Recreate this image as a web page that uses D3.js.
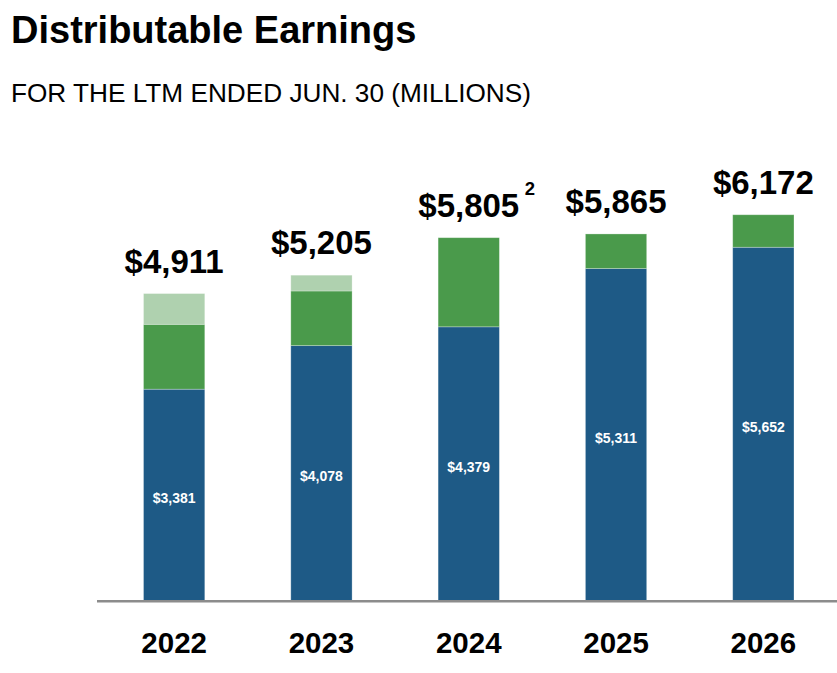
<!DOCTYPE html>
<html>
<head>
<meta charset="utf-8">
<script src="https://cdn.jsdelivr.net/npm/d3@7"></script>
<style>
    body { margin: 0; background: #fff; }
    svg { display: block; font-family: "Liberation Sans", Arial, sans-serif; }
</style>
</head>
<body>
<div id="chart"></div>
<script>
// Data
const years = ["2022", "2023", "2024", "2025", "2026"];
const baseValues = [3381, 4078, 4379, 5311, 5652];   // dark blue, labelled
const midValues = [1038, 874, 1426, 554, 520];        // green
const topValues = [492, 253, 0, 0, 0];                // light green
const totalLabels = ["$4,911", "$5,205", "$5,805", "$5,865", "$6,172"];
const footnotes = ["", "", "2", "", ""];

const width = 837, height = 673;

const svg = d3.select("#chart")
    .append("svg")
    .attr("width", width)
    .attr("height", height);

// Title and subtitle
svg.append("text")
    .attr("x", 11)
    .attr("y", 43)
    .style("font-size", "38px")
    .style("font-weight", "bold")
    .attr("fill", "#000")
    .text("Distributable Earnings");

svg.append("text")
    .attr("x", 11)
    .attr("y", 102)
    .style("font-size", "26.2px")
    .attr("fill", "#000")
    .text("FOR THE LTM ENDED JUN. 30 (MILLIONS)");

// Scales
const x = d3.scaleBand()
    .domain(years)
    .range([100.5, 837])
    .paddingInner(0.584)
    .paddingOuter(0.292);

const y = d3.scaleLinear()
    .domain([0, 6400])
    .range([600.5, 200.5]);

const rows = years.map((yr, i) => ({
    year: yr,
    base: baseValues[i],
    mid: midValues[i],
    top: topValues[i],
    label: totalLabels[i],
    note: footnotes[i]
}));

const stack = d3.stack().keys(["base", "mid", "top"]);
const series = stack(rows);
const colors = { base: "#1E5A86", mid: "#4A9A4B", top: "#AFD1AF" };

// Bars
svg.append("g")
    .selectAll("g")
    .data(series)
    .join("g")
    .attr("fill", d => colors[d.key])
    .selectAll("rect")
    .data(d => d.filter(s => s[1] > s[0]))
    .join("rect")
    .attr("x", d => x(d.data.year))
    .attr("width", x.bandwidth())
    .attr("y", d => y(d[1]))
    .attr("height", d => y(d[0]) - y(d[1]))
    .attr("stroke", "rgba(255,255,255,0.35)")
    .attr("stroke-width", 0.8);

// Inner labels on the blue segment
svg.append("g")
    .selectAll("text")
    .data(series[0])
    .join("text")
    .attr("x", d => x(d.data.year) + x.bandwidth() / 2)
    .attr("y", d => (y(d[0]) + y(d[1])) / 2 + 8)
    .attr("text-anchor", "middle")
    .attr("fill", "#fff")
    .style("font-size", "14px")
    .style("font-weight", "bold")
    .text(d => d3.format("$,")(d.data.base));

// Total labels above bars
const totals = svg.append("g")
    .selectAll("g")
    .data(series[2])
    .join("g");

totals.append("text")
    .attr("x", d => x(d.data.year) + x.bandwidth() / 2)
    .attr("y", d => y(d[1]) - 21)
    .attr("text-anchor", "middle")
    .attr("fill", "#000")
    .style("font-size", "33px")
    .style("font-weight", "bold")
    .text(d => d.data.label);

totals.filter(d => d.data.note)
    .append("text")
    .attr("x", d => x(d.data.year) + x.bandwidth() / 2 + 56)
    .attr("y", d => y(d[1]) - 43)
    .attr("fill", "#000")
    .style("font-size", "18.5px")
    .style("font-weight", "bold")
    .text(d => d.data.note);

// X axis
const xAxis = svg.append("g")
    .attr("transform", "translate(0,601.2)")
    .call(d3.axisBottom(x).tickSize(0).tickSizeOuter(0));

xAxis.select(".domain")
    .attr("d", "M97,0H837")
    .attr("stroke", "#8C8C8C")
    .attr("stroke-width", 2.4);

xAxis.selectAll("text")
    .attr("y", 52)
    .attr("dy", 0)
    .attr("fill", "#000")
    .style("font-family", "'Liberation Sans', Arial, sans-serif")
    .style("font-size", "29.5px")
    .style("font-weight", "bold");
</script>
</body>
</html>
